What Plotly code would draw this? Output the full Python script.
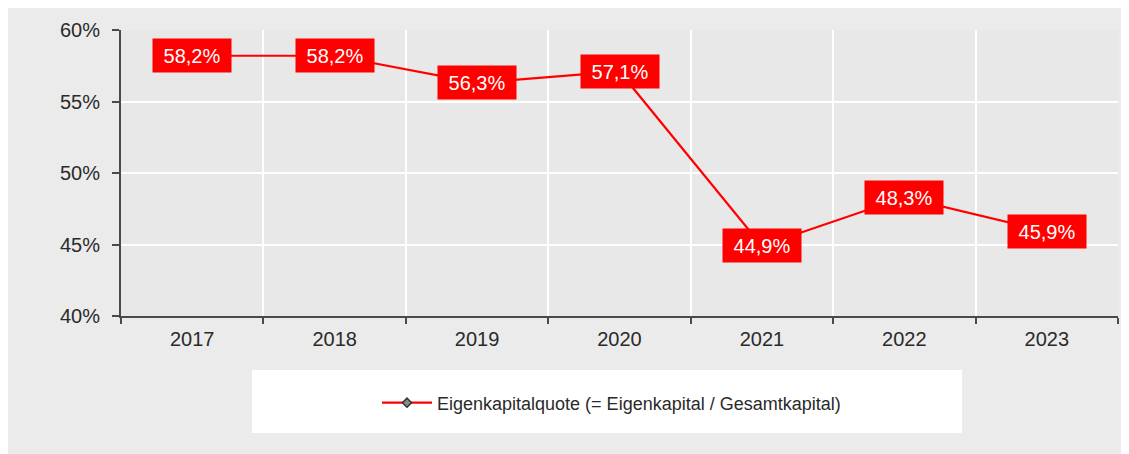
import plotly.graph_objects as go

years = ["2017", "2018", "2019", "2020", "2021", "2022", "2023"]
quote = [58.2, 58.2, 56.3, 57.1, 44.9, 48.3, 45.9]
labels = ["58,2%", "58,2%", "56,3%", "57,1%", "44,9%", "48,3%", "45,9%"]
y_ticks = [40, 45, 50, 55, 60]
y_tick_text = ["40%", "45%", "50%", "55%", "60%"]
series_name = "Eigenkapitalquote (= Eigenkapital / Gesamtkapital)"

OFF = 8  # browser body margin
W, H = 1129 - OFF, 454 - OFF
L, R, T, B = 121 - OFF, 11, 30 - OFF, 138
pw, ph = W - L - R, H - T - B

def px(x):  # page pixel -> paper x
    return (x - OFF - L) / pw

def py(y):  # page pixel -> paper y
    return (H - B - (y - OFF)) / ph

xs = list(range(len(years)))

fig = go.Figure()
fig.add_trace(go.Scatter(
    x=xs, y=quote, mode="lines+markers", name=series_name,
    line=dict(color="#ff0000", width=2.2),
    marker=dict(symbol="diamond", size=7, color="#8a8a8a",
                line=dict(color="#333333", width=1.5)),
    showlegend=True,
))

for x, y, t in zip(xs, quote, labels):
    fig.add_annotation(x=x, y=y, text=t, showarrow=False,
                       font=dict(family="Liberation Sans, Arial", size=20, color="white"),
                       bgcolor="#ff0000", width=70, height=25, borderpad=4,
                       xanchor="center", yanchor="middle")

shapes = [
    dict(type="rect", xref="paper", yref="paper", x0=px(252), x1=px(962),
         y0=py(433), y1=py(370), fillcolor="white", line=dict(width=0), layer="below"),
]

fig.update_layout(
    width=W, height=H,
    margin=dict(l=L, r=R, t=T, b=B, pad=0),
    paper_bgcolor="#ebebeb", plot_bgcolor="#e8e8e8",
    font=dict(family="Liberation Sans, Arial", size=20, color="#2a2a2a"),
    shapes=shapes,
    showlegend=True,
    legend=dict(x=px(377), y=py(403), xanchor="left", yanchor="middle",
                bgcolor="rgba(0,0,0,0)", font=dict(size=18, color="#2a2a2a"),
                itemwidth=50),
    xaxis=dict(range=[-0.5, 6.5], tickvals=xs, ticktext=years, ticks="",
               showgrid=False, zeroline=False, fixedrange=True,
               showline=True, linecolor="#4a4a4a", linewidth=2,
               ticklabelstandoff=4,
               minor=dict(tick0=-0.5, dtick=1, showgrid=True, gridcolor="white",
                          gridwidth=2, ticks="outside", ticklen=6, tickcolor="#4a4a4a",
                          tickwidth=2),
               tickfont=dict(size=20)),
    yaxis=dict(range=[40, 60], tickvals=y_ticks, ticktext=y_tick_text,
               ticks="outside", ticklen=7, tickcolor="#4a4a4a", tickwidth=2,
               ticklabelstandoff=8,
               showgrid=True, gridcolor="white", gridwidth=2, zeroline=False,
               showline=True, linecolor="#4a4a4a", linewidth=2,
               tickfont=dict(size=20)),
)

fig.write_html(
    "out.html",
    post_script="document.documentElement.style.overflow='hidden';"
                "document.body.style.overflow='hidden';",
)
